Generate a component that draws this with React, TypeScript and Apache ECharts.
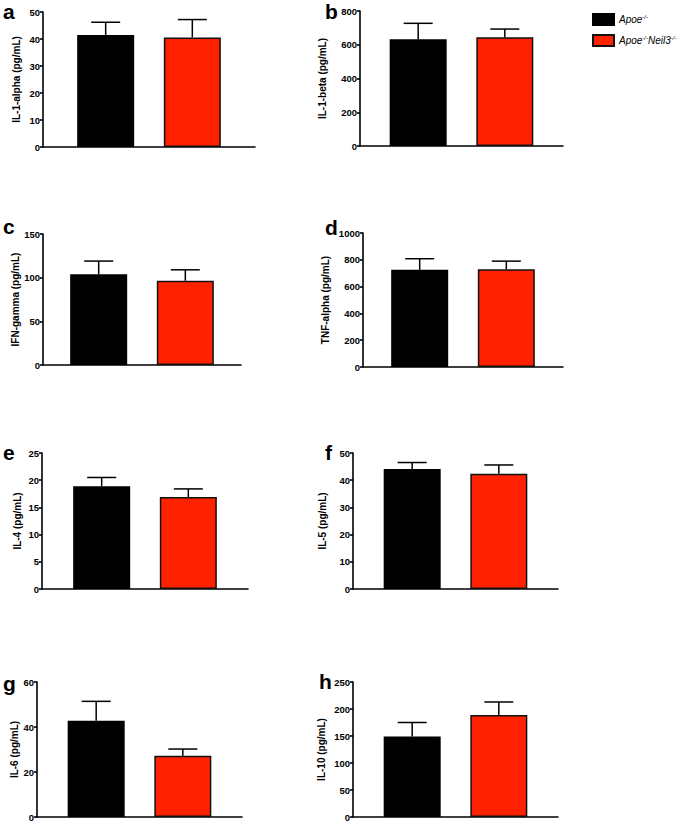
import React, { useEffect, useRef } from "react";
import * as echarts from "echarts";

const panelLetters = ["a", "b", "c", "d", "e", "f", "g", "h"];
const yTitles = [
  "IL-1-alpha (pg/mL)",
  "IL-1-beta (pg/mL)",
  "IFN-gamma (pg/mL)",
  "TNF-alpha (pg/mL)",
  "IL-4 (pg/mL)",
  "IL-5 (pg/mL)",
  "IL-6 (pg/mL)",
  "IL-10 (pg/mL)",
];
const yMaxes = [50, 800, 150, 1000, 25, 50, 60, 250];
const yIntervals = [10, 200, 50, 200, 5, 10, 20, 50];

const groupNames = ["Apoe-/-", "Apoe-/-Neil3-/-"];
const ctrlMean = [41.5, 632, 104, 725, 18.9, 44.1, 42.8, 149];
const ctrlUpper = [46.2, 727, 119, 808, 20.5, 46.5, 51.4, 175];
const koMean = [40.6, 644, 96.5, 730, 16.9, 42.4, 27.2, 189];
const koUpper = [47.2, 693, 109, 790, 18.4, 45.6, 30.2, 213];

// layout (pixels)
const grids = [
  { left: 43, top: 12, width: 212, height: 135 },
  { left: 360, top: 11, width: 203, height: 135 },
  { left: 43, top: 234, width: 198, height: 131 },
  { left: 363, top: 233, width: 200, height: 134 },
  { left: 42, top: 453, width: 206, height: 136 },
  { left: 353, top: 453, width: 205, height: 136 },
  { left: 37, top: 682, width: 205, height: 135 },
  { left: 353, top: 682, width: 205, height: 135 },
];
const nameGaps = [22, 33, 22, 33, 20, 26, 16, 27];
const letterPos = [
  [3, 1],
  [325, 1],
  [3, 216],
  [325, 217],
  [3, 442],
  [325, 442],
  [3, 673],
  [319, 671],
];

const BAR_W = 57;
const BAR_GAP = 0.52;
const CAP_W = 29;
const FONT = "'Liberation Sans', Arial, sans-serif";

export default function App() {
  const ref = useRef<HTMLDivElement>(null);
  useEffect(() => {
    if (!ref.current) return;
    const chart = echarts.init(ref.current, null, { renderer: "svg" });

    const grid: any[] = [];
    const xAxis: any[] = [];
    const yAxis: any[] = [];
    const series: any[] = [];
    const graphic: any[] = [];

    const offset = (BAR_W * (1 + BAR_GAP)) / 2;

    for (let i = 0; i < 8; i++) {
      grid.push({ ...grids[i], containLabel: false });
      xAxis.push({
        type: "category",
        gridIndex: i,
        data: [yTitles[i]],
        axisLine: { show: true, lineStyle: { color: "#000", width: 1.6 } },
        axisTick: { show: false },
        axisLabel: { show: false },
        splitLine: { show: false },
      });
      yAxis.push({
        type: "value",
        gridIndex: i,
        min: 0,
        max: yMaxes[i],
        interval: yIntervals[i],
        name: yTitles[i],
        nameLocation: "middle",
        nameGap: nameGaps[i],
        nameTextStyle: {
          fontFamily: FONT,
          fontWeight: "bold",
          fontSize: 10,
          color: "#000",
        },
        axisLine: { show: true, lineStyle: { color: "#000", width: 1.6 } },
        axisTick: { show: true, length: 3, lineStyle: { color: "#000", width: 1.6 } },
        axisLabel: {
          fontFamily: FONT,
          fontWeight: "bold",
          fontSize: 9.5,
          color: "#000",
          margin: 3,
          formatter: (v: number) => String(v),
        },
        splitLine: { show: false },
      });
      series.push({
        name: groupNames[0],
        type: "bar",
        xAxisIndex: i,
        yAxisIndex: i,
        barWidth: BAR_W,
        barGap: `${BAR_GAP * 100}%`,
        data: [ctrlMean[i]],
        itemStyle: { color: "#000000", borderColor: "#000", borderWidth: 1.5 },
      });
      series.push({
        name: groupNames[1],
        type: "bar",
        xAxisIndex: i,
        yAxisIndex: i,
        barWidth: BAR_W,
        barGap: `${BAR_GAP * 100}%`,
        data: [koMean[i]],
        itemStyle: { color: "#ff2200", borderColor: "#111", borderWidth: 1.5 },
      });
      series.push({
        type: "custom",
        xAxisIndex: i,
        yAxisIndex: i,
        z: 5,
        silent: true,
        data: [
          [0, ctrlMean[i], ctrlUpper[i], -1],
          [0, koMean[i], koUpper[i], 1],
        ],
        renderItem: (params: any, api: any) => {
          const base = api.coord([api.value(0), api.value(1)]);
          const top = api.coord([api.value(0), api.value(2)]);
          const x = base[0] + api.value(3) * offset;
          const style = { stroke: "#000", lineWidth: 1.5 };
          return {
            type: "group",
            children: [
              { type: "line", shape: { x1: x, y1: base[1], x2: x, y2: top[1] }, style },
              {
                type: "line",
                shape: { x1: x - CAP_W / 2, y1: top[1], x2: x + CAP_W / 2, y2: top[1] },
                style,
              },
            ],
          };
        },
      });
      graphic.push({
        type: "text",
        x: letterPos[i][0],
        y: letterPos[i][1],
        style: {
          text: panelLetters[i],
          fontFamily: FONT,
          fontWeight: "bold",
          fontSize: 21,
          fill: "#000",
          verticalAlign: "top",
        },
      });
    }

    chart.setOption({
      animation: false,
      backgroundColor: "#fff",
      grid,
      xAxis,
      yAxis,
      series,
      graphic,
      legend: {
        data: groupNames,
        orient: "vertical",
        left: 592,
        top: 13,
        padding: 0,
        itemWidth: 21,
        itemHeight: 11,
        itemGap: 8,
        icon: "rect",
        formatter: (name: string) =>
          name === groupNames[0]
            ? "{i|Apoe}{s|-/-}"
            : "{i|Apoe}{s|-/-}{i|Neil3}{s|-/-}",
        textStyle: {
          fontFamily: FONT,
          color: "#000",
          rich: {
            i: { fontStyle: "italic", fontSize: 10, fontFamily: FONT, color: "#000" },
            s: {
              fontStyle: "italic",
              fontSize: 6,
              fontFamily: FONT,
              color: "#000",
              padding: [0, 0, 6, 0],
            },
          },
        },
      },
    });
    return () => chart.dispose();
  }, []);
  return (
    <div
      ref={ref}
      style={{ position: "fixed", left: 0, top: 0, width: 685, height: 824 }}
    />
  );
}
